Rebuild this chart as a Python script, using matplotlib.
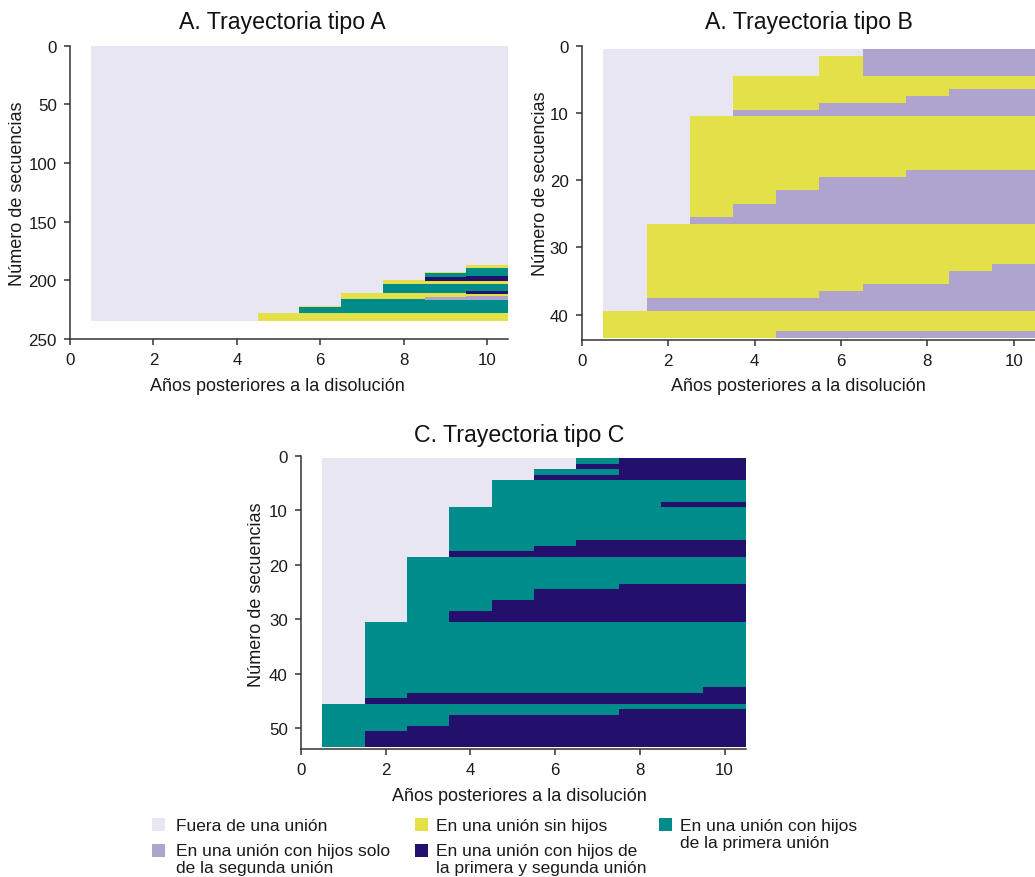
import matplotlib
matplotlib.use("Agg")
import matplotlib.pyplot as plt
import numpy as np
from matplotlib.colors import ListedColormap
from matplotlib.patches import Rectangle

plt.rcParams['font.family'] = ['Liberation Sans', 'DejaVu Sans']

# ---------------- data ----------------
state_codes = ["F", "L", "Y", "N", "T"]
state_labels = [
    "Fuera de una unión",
    "En una unión con hijos solo\nde la segunda unión",
    "En una unión sin hijos",
    "En una unión con hijos de\nla primera y segunda unión",
    "En una unión con hijos\nde la primera unión",
]
state_colors = ["#E7E6F2", "#AEA4CE", "#E3E147", "#23106C", "#008C8A"]

years = [1, 2, 3, 4, 5, 6, 7, 8, 9, 10]

# Panel A: sequence patterns (one char per year) and number of sequences
seqA_patterns = ["FFFFFFFFFF", "FFFFFFFFFY", "FFFFFFFFFT", "FFFFFFFFYT", "FFFFFFFFTT",
                 "FFFFFFFFTN", "FFFFFFFFNN", "FFFFFFFYNN", "FFFFFFFYYY", "FFFFFFFTTT",
                 "FFFFFFFTTN", "FFFFFFYYYN", "FFFFFFYYYY", "FFFFFFYYYL", "FFFFFFYYLL",
                 "FFFFFFTTLL", "FFFFFFTTTT", "FFFFFYTTTT", "FFFFFTTTTT", "FFFFYYYYYY"]
seqA_counts = [186, 3, 3, 1, 3, 1, 2, 1, 3, 6, 1, 1, 2, 1, 1, 1, 5, 1, 5, 7]

# Panel B
seqB_patterns = ["FFFFFFLLLL", "FFFFFYLLLL", "FFFYYYYYYY", "FFFYYYYYLL", "FFFYYYYLLL",
                 "FFFYYLLLLL", "FFFLLLLLLL", "FFYYYYYYYY", "FFYYYYYLLL", "FFYYYLLLLL",
                 "FFYYLLLLLL", "FFYLLLLLLL", "FFLLLLLLLL", "FYYYYYYYYY", "FYYYYYYYYL",
                 "FYYYYYYYLL", "FYYYYYLLLL", "FYYYYLLLLL", "FLLLLLLLLL", "YYYYYYYYYY",
                 "YYYYLLLLLL"]
seqB_counts = [1, 3, 2, 1, 1, 1, 1, 8, 1, 2, 2, 2, 1, 6, 1, 2, 1, 1, 2, 3, 1]

# Panel C
seqC_patterns = ["FFFFFFTNNN", "FFFFFFNNNN", "FFFFFTTNNN", "FFFFFNNNNN", "FFFFTTTTTT",
                 "FFFFTTTTNN", "FFFTTTTTTT", "FFFTTTNNNN", "FFFTTNNNNN", "FFFNNNNNNN",
                 "FFTTTTTTTT", "FFTTTTTNNN", "FFTTTNNNNN", "FFTTNNNNNN", "FFTNNNNNNN",
                 "FTTTTTTTTT", "FTTTTTTTTN", "FTNNNNNNNN", "FNNNNNNNNN", "TTTTTTTTTT",
                 "TTTTTTTNNN", "TTTNNNNNNN", "TTNNNNNNNN", "TNNNNNNNNN"]
seqC_counts = [1, 1, 1, 1, 4, 1, 6, 1, 1, 1, 5, 1, 2, 2, 2, 12, 1, 1, 1, 1, 1, 2, 1, 3]

titles = ["A. Trayectoria tipo A", "A. Trayectoria tipo B", "C. Trayectoria tipo C"]
x_ticks = [0, 2, 4, 6, 8, 10]
yticksA = [0, 50, 100, 150, 200, 250]
yticksB = [0, 10, 20, 30, 40]
yticksC = [0, 10, 20, 30, 40, 50]
xlabel = "Años posteriores a la disolución"
ylabel = "Número de secuencias"

# ---------------- drawing ----------------
W, H = 1035, 878
fig = plt.figure(figsize=(W / 100, H / 100), dpi=100)
cmap = ListedColormap(state_colors)
spine_col = "#333333"


def build_matrix(patterns, counts):
    rows = []
    for p, c in zip(patterns, counts):
        rows.extend([[state_codes.index(ch) for ch in p]] * c)
    return np.array(rows)


def px_axes(left, top, right, bottom):
    return fig.add_axes([left / W, 1 - bottom / H, (right - left) / W, (bottom - top) / H])


def draw_panel(ax, patterns, counts, title, yticks, ybottom, title_x, title_pad,
               xlab_xy, ylab_xy):
    M = build_matrix(patterns, counts)
    n = M.shape[0]
    yrs = np.array(years, dtype=float)
    x_edges = np.append(yrs - 0.5, yrs[-1] + 0.5)
    y_edges = np.arange(n + 1) + 0.5
    ax.pcolormesh(x_edges, y_edges, M, cmap=cmap, vmin=-0.5, vmax=len(state_codes) - 0.5,
                  shading="flat", edgecolors="none", antialiased=False)
    ax.set_xlim(0, yrs[-1] + 0.5)
    ax.set_ylim(ybottom, 0)
    ax.set_xticks(x_ticks)
    ax.set_yticks(yticks)
    for s in ["top", "right"]:
        ax.spines[s].set_visible(False)
    for s in ["left", "bottom"]:
        ax.spines[s].set_color(spine_col)
        ax.spines[s].set_linewidth(1.1)
    ax.tick_params(axis="both", length=4.5, width=1.1, color=spine_col, pad=5,
                   labelsize=12.2, labelcolor="#1a1a1a")
    ax.set_title(title, fontsize=16.7, x=title_x, pad=title_pad, color="#111111")
    ax.set_xlabel(xlabel, fontsize=13, color="#1a1a1a")
    ax.set_ylabel(ylabel, fontsize=13, color="#1a1a1a")
    ax.xaxis.set_label_coords(*xlab_xy)
    ax.yaxis.set_label_coords(*ylab_xy)


axA = px_axes(70, 46.7, 508, 340)
axB = px_axes(581.7, 46.7, 1035.3, 340.5)
axC = px_axes(301, 456.7, 745.7, 750)

draw_panel(axA, seqA_patterns, seqA_counts, titles[0], yticksA, 250,
           0.485, 12.5, (0.4726, -0.128), (-0.10, 0.5))
draw_panel(axB, seqB_patterns, seqB_counts, titles[1], yticksB, 43.7,
           0.5, 12.5, (0.477, -0.128), (-0.071, 0.535))
draw_panel(axC, seqC_patterns, seqC_counts, titles[2], yticksC, 53.8,
           0.49, 10.8, (0.49, -0.131), (-0.0805, 0.53))

# ---------------- legend (manual, figure pixel layout) ----------------
leg_order = [0, 2, 4, 1, 3]
patch_x = {0: 152, 2: 415, 4: 659, 1: 152, 3: 415}
text_x = {0: 176, 2: 436, 4: 680, 1: 176, 3: 436}
patch_top = {0: 819, 2: 819, 4: 819, 1: 845, 3: 845}
first_base = {0: 831.3, 2: 831.3, 4: 831.3, 1: 856.3, 3: 856.3}
line_gap = 17.2
psize = 13
for i in leg_order:
    px, pt = patch_x[i], patch_top[i]
    fig.add_artist(Rectangle((px / W, 1 - (pt + psize) / H), psize / W, psize / H,
                             transform=fig.transFigure, facecolor=state_colors[i],
                             edgecolor="none"))
    for k, line in enumerate(state_labels[i].split("\n")):
        fig.text(text_x[i] / W, 1 - (first_base[i] + k * line_gap) / H, line,
                 fontsize=12.5, ha="left", va="baseline", color="#1a1a1a")

fig.savefig("out.png", dpi=100)
